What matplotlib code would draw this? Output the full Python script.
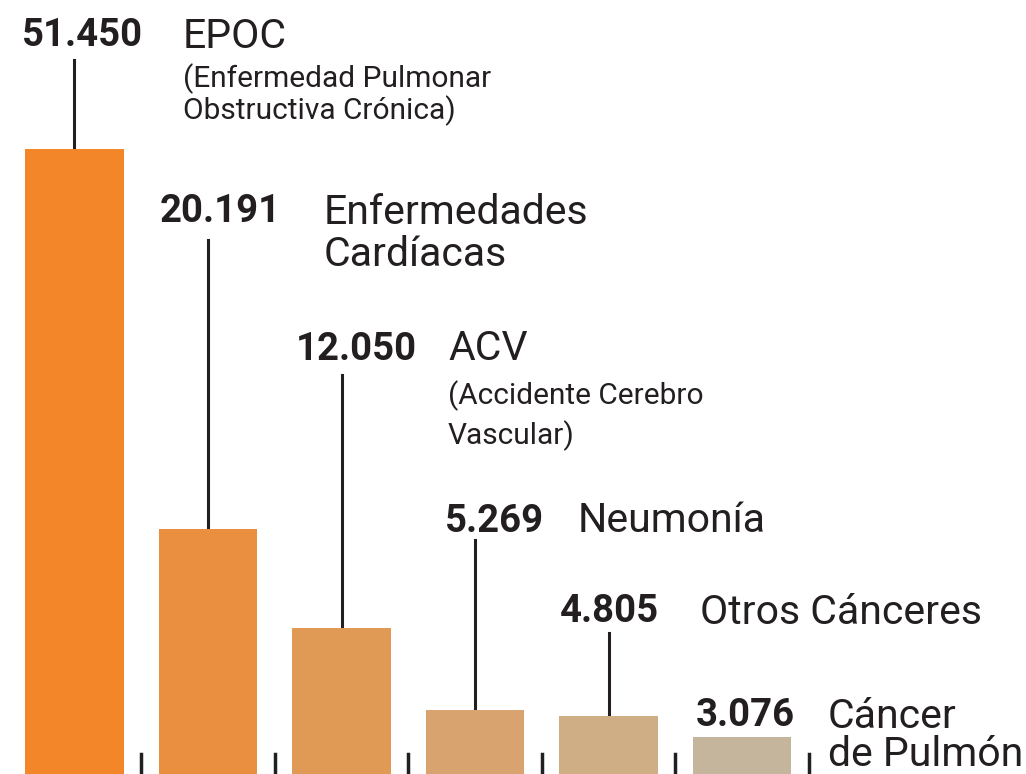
import matplotlib.pyplot as plt

# datos: defunciones por causa
valores = [51450, 20191, 12050, 5269, 4805, 3076]
etiquetas_valor = ['51.450', '20.191', '12.050', '5.269', '4.805', '3.076']
nombres = ['EPOC', 'Enfermedades\nCardíacas', 'ACV', 'Neumonía', 'Otros Cánceres', 'Cáncer\nde Pulmón']
subtitulos = ['(Enfermedad Pulmonar\nObstructiva Crónica)', '', '(Accidente Cerebro\nVascular)', '', '', '']
colores = ['#F4862A', '#EA8F3F', '#E19956', '#D8A36E', '#CFAD85', '#C4B59C']

# posiciones de las etiquetas (en pixeles de la imagen)
valor_x = [22, 160, 296, 445, 560, 696]
nombre_x = [183, 324, 448, 578, 700, 828]
etiqueta_y = [32, 208, 345, 517, 608, 712]
interlinea = [0, 42, 0, 0, 0, 38]
sub_y = [75, None, 392, None, None, None]
sub_paso = [32, 0, 40, 0, 0, 0]
linea_top = [60, 240, 375, 540, 633, None]

W, H = 1026, 774
YMAX = 63714
fig = plt.figure(figsize=(W / 100, H / 100), dpi=100)
ax = fig.add_axes([0, 0, 1, 1])

x = list(range(len(valores)))
ax.bar(x, valores, width=0.74, color=colores, zorder=2)

ax.set_xlim(-0.558, 7.127)
ax.set_ylim(0, YMAX)

def px_y(py):
    return 1 - py / H

fuente = ['Roboto', 'DejaVu Sans']
negro = '#231F20'

for i, v in enumerate(valores):
    if linea_top[i] is not None:
        ax.plot([i, i], [v, (H - linea_top[i]) / H * YMAX], color=negro, lw=2.2, zorder=1)
    # marcas en la base
    ax.plot([i + 0.5, i + 0.5], [0, 20 / H * YMAX], color=negro, lw=2.5)
    ax.text(valor_x[i] / W, px_y(etiqueta_y[i]), etiquetas_valor[i], transform=ax.transAxes,
            ha='left', va='center_baseline', fontsize=27.5, fontweight='bold', family=fuente, color=negro)
    for k, linea in enumerate(nombres[i].split('\n')):
        ax.text(nombre_x[i] / W, px_y(etiqueta_y[i] + k * interlinea[i]), linea, transform=ax.transAxes,
                ha='left', va='center_baseline', fontsize=29.5, family=fuente, color=negro)
    if subtitulos[i]:
        for k, linea in enumerate(subtitulos[i].split('\n')):
            ax.text(nombre_x[i] / W, px_y(sub_y[i] + k * sub_paso[i]), linea, transform=ax.transAxes,
                    ha='left', va='center_baseline', fontsize=21.5, family=fuente, color=negro)

ax.axis('off')
fig.savefig('out.png', dpi=100)
